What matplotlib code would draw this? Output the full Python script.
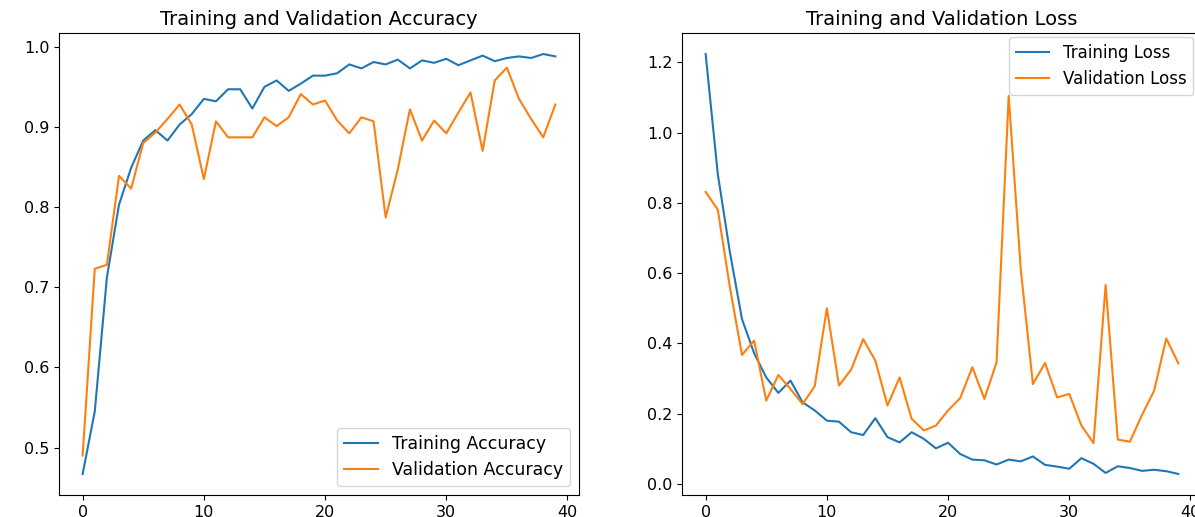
import matplotlib
matplotlib.use("Agg")
import matplotlib.pyplot as plt

# values
epochs = list(range(40))

acc = [0.467, 0.545, 0.712, 0.803, 0.849, 0.883, 0.896, 0.883, 0.903, 0.916,
       0.935, 0.932, 0.947, 0.947, 0.923, 0.950, 0.958, 0.945, 0.954, 0.964,
       0.964, 0.967, 0.978, 0.973, 0.981, 0.978, 0.984, 0.973, 0.983, 0.980,
       0.985, 0.977, 0.983, 0.989, 0.982, 0.986, 0.988, 0.986, 0.991, 0.988]

val_acc = [0.490, 0.723, 0.728, 0.839, 0.823, 0.880, 0.893, 0.910, 0.928, 0.903,
           0.835, 0.907, 0.887, 0.887, 0.887, 0.912, 0.901, 0.912, 0.941, 0.928,
           0.933, 0.908, 0.892, 0.912, 0.907, 0.787, 0.847, 0.922, 0.883, 0.908,
           0.892, 0.918, 0.943, 0.870, 0.958, 0.974, 0.935, 0.910, 0.887, 0.928]

loss = [1.224, 0.883, 0.660, 0.469, 0.372, 0.303, 0.259, 0.294, 0.232, 0.209,
        0.180, 0.177, 0.147, 0.139, 0.187, 0.133, 0.118, 0.147, 0.128, 0.101,
        0.117, 0.085, 0.069, 0.067, 0.055, 0.069, 0.064, 0.078, 0.054, 0.049,
        0.043, 0.073, 0.057, 0.031, 0.050, 0.045, 0.037, 0.040, 0.036, 0.028]

val_loss = [0.831, 0.781, 0.560, 0.367, 0.408, 0.237, 0.310, 0.270, 0.227, 0.278,
            0.500, 0.280, 0.325, 0.412, 0.351, 0.223, 0.303, 0.185, 0.152, 0.166,
            0.209, 0.244, 0.332, 0.242, 0.346, 1.105, 0.610, 0.284, 0.344, 0.246,
            0.256, 0.166, 0.116, 0.566, 0.126, 0.120, 0.196, 0.265, 0.414, 0.343]

W, H = 1195, 517
fig = plt.figure(figsize=(W / 100, H / 100), dpi=100)

# left panel: accuracy
ax1 = fig.add_axes([59 / W, 1 - 495 / H, 520 / W, 462 / H])
ax1.plot(epochs, acc, label='Training Accuracy')
ax1.plot(epochs, val_acc, label='Validation Accuracy')
ax1.legend(loc='lower right', fontsize=12.5)
ax1.set_title('Training and Validation Accuracy', fontsize=14)
ax1.set_yticks([0.5, 0.6, 0.7, 0.8, 0.9, 1.0])
ax1.set_xticks([0, 10, 20, 30, 40])
ax1.tick_params(labelsize=11.5)

# right panel: loss (runs past the right edge, like the cropped original)
ax2 = fig.add_axes([682 / W, 1 - 495 / H, 520 / W, 462 / H])
ax2.plot(epochs, loss, label='Training Loss')
ax2.plot(epochs, val_loss, label='Validation Loss')
ax2.legend(loc='upper right', fontsize=12, borderaxespad=0,
           bbox_to_anchor=(1 - 2 / W, 1 - 37 / H), bbox_transform=fig.transFigure)
ax2.set_title('Training and Validation Loss', fontsize=14)
ax2.set_yticks([0.0, 0.2, 0.4, 0.6, 0.8, 1.0, 1.2])
ax2.set_xticks([0, 10, 20, 30, 40])
ax2.tick_params(labelsize=11.5)

fig.savefig('out.png', dpi=100)
